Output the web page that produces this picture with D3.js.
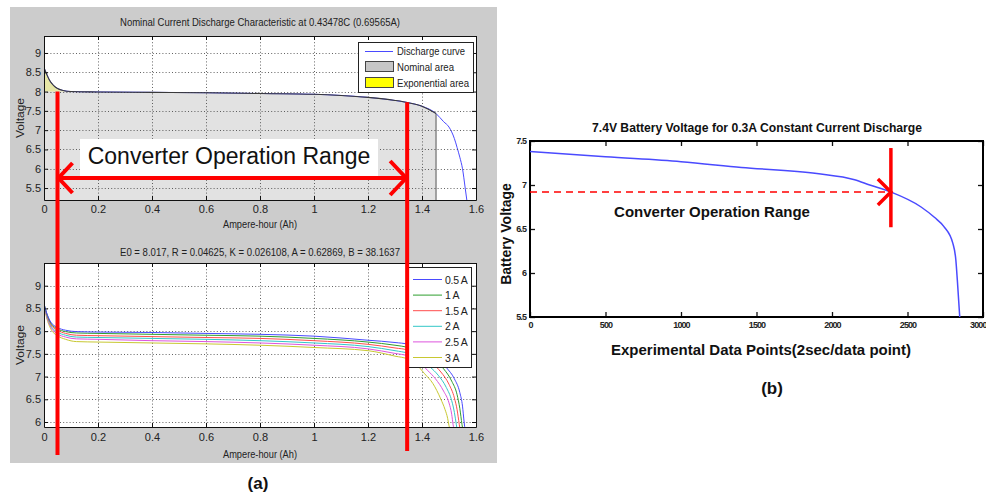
<!DOCTYPE html>
<html lang="en">
<head>
  <meta charset="UTF-8">
  <title>Battery Discharge Characteristics</title>
  <script src="https://d3js.org/d3.v7.min.js"></script>
  <style>
    body { margin: 0; background: #fff; }
    svg { display: block; font-family: "Liberation Sans", Arial, sans-serif; }
  </style>
</head>
<body>
<div id="chart"></div>
<script>
  // ---------- (a) top : nominal current discharge ----------
  const nomAh = [0, 0.01, 0.02, 0.035, 0.05, 0.07, 0.1, 0.2, 0.4, 0.6, 0.8, 1.0, 1.1, 1.2, 1.3, 1.35, 1.4, 1.452, 1.48, 1.5, 1.52, 1.53, 1.54, 1.55, 1.56, 1.566];
  const nomV = [8.62, 8.45, 8.3, 8.16, 8.08, 8.03, 8.0, 7.99, 7.98, 7.97, 7.95, 7.93, 7.9, 7.85, 7.77, 7.71, 7.62, 7.43, 7.22, 7.08, 6.78, 6.55, 6.3, 6.0, 5.5, 5.19];
  const nominalEnd = 1.452;
  const exponentialEnd = 0.1;
  const exponentialFloor = 8.0;
  const topLegend = ["Discharge curve", "Nominal area", "Exponential area"];

  // ---------- (a) bottom : discharge at several currents ----------
  const currents = ["0.5 A", "1 A", "1.5 A", "2 A", "2.5 A", "3 A"];
  const currentColors = ["#4a4aff", "#2e9e2e", "#ff4d4d", "#33c7c7", "#dd55dd", "#c8c832"];
  const ahHead = [0, 0.01, 0.025, 0.05, 0.08, 0.12, 0.2, 0.4, 0.6, 0.8, 1.0, 1.2, 1.3, 1.35];
  const vHead05 = [8.6, 8.4, 8.2, 8.08, 8.02, 7.99, 7.98, 7.97, 7.95, 7.93, 7.89, 7.8, 7.75, 7.71];
  const vHead1 = [8.6, 8.39, 8.18, 8.05, 7.99, 7.96, 7.95, 7.93, 7.91, 7.89, 7.84, 7.76, 7.69, 7.64];
  const vHead15 = [8.59, 8.37, 8.15, 8.02, 7.95, 7.91, 7.9, 7.88, 7.86, 7.84, 7.79, 7.71, 7.63, 7.58];
  const vHead2 = [8.58, 8.35, 8.12, 7.98, 7.91, 7.87, 7.86, 7.84, 7.82, 7.79, 7.74, 7.66, 7.57, 7.51];
  const vHead25 = [8.57, 8.32, 8.09, 7.94, 7.87, 7.83, 7.82, 7.79, 7.77, 7.74, 7.69, 7.61, 7.51, 7.45];
  const vHead3 = [8.56, 8.29, 8.05, 7.9, 7.82, 7.77, 7.76, 7.74, 7.72, 7.69, 7.64, 7.57, 7.45, 7.38];
  const ahTail05 = [1.4, 1.45, 1.49, 1.52, 1.54, 1.55, 1.556, 1.56];
  const vTail05 = [7.6, 7.45, 7.2, 6.95, 6.65, 6.35, 6.0, 5.8];
  const ahTail1 = [1.4, 1.45, 1.48, 1.51, 1.53, 1.54, 1.548, 1.552];
  const vTail1 = [7.53, 7.35, 7.17, 6.9, 6.6, 6.3, 5.95, 5.8];
  const ahTail15 = [1.39, 1.44, 1.47, 1.5, 1.52, 1.53, 1.538, 1.542];
  const vTail15 = [7.47, 7.28, 7.1, 6.83, 6.53, 6.27, 5.95, 5.8];
  const ahTail2 = [1.39, 1.43, 1.46, 1.49, 1.51, 1.52, 1.527, 1.531];
  const vTail2 = [7.4, 7.21, 7.03, 6.76, 6.47, 6.21, 5.95, 5.8];
  const ahTail25 = [1.39, 1.42, 1.45, 1.48, 1.5, 1.51, 1.515, 1.52];
  const vTail25 = [7.32, 7.14, 6.95, 6.68, 6.42, 6.17, 5.95, 5.8];
  const ahTail3 = [1.38, 1.41, 1.44, 1.47, 1.485, 1.495, 1.5, 1.505];
  const vTail3 = [7.26, 7.06, 6.85, 6.5, 6.28, 6.08, 5.92, 5.8];

  // ---------- (b) : 7.4V battery, 0.3A experiment ----------
  const expIdx = [0, 500, 1000, 1400, 1900, 2150, 2250, 2390, 2590, 2680, 2740, 2800, 2820, 2830, 2846];
  const expV = [7.38, 7.32, 7.265, 7.2, 7.13, 7.06, 7.0, 6.92, 6.75, 6.63, 6.53, 6.34, 6.15, 5.92, 5.5];
  const rangeEndIdx = 2390;
  const rangeV = 6.92;

  // range annotations on (a)
  const rangeStartAh = 0.05;
  const rangeEndAh = 1.345;

  const ahTicks = [0, 0.2, 0.4, 0.6, 0.8, 1, 1.2, 1.4, 1.6];
  const topVTicks = [5.5, 6, 6.5, 7, 7.5, 8, 8.5, 9];
  const botVTicks = [6, 6.5, 7, 7.5, 8, 8.5, 9];
  const idxTicks = [0, 500, 1000, 1500, 2000, 2500, 3000];
  const expVTicks = [5.5, 6, 6.5, 7, 7.5];

  const width = 986, height = 495;
  const svg = d3.select("#chart").append("svg")
    .attr("width", width).attr("height", height);

  // gray matlab figure panel
  svg.append("rect").attr("x", 10).attr("y", 7).attr("width", 487).attr("height", 456)
    .attr("fill", "#cccccc");

  const xTop = d3.scaleLinear([0, 1.6], [44, 476]);
  const yTop = d3.scaleLinear([5.19, 9.44], [200, 36]);
  const xBot = d3.scaleLinear([0, 1.6], [44, 476]);
  const yBot = d3.scaleLinear([5.89, 9.5], [427, 263]);

  const fmtNum = d => String(+d.toFixed(1));

  function clipFor(id, x, y) {
    svg.append("clipPath").attr("id", id).append("rect")
      .attr("x", x.range()[0]).attr("y", y.range()[1])
      .attr("width", x.range()[1] - x.range()[0])
      .attr("height", y.range()[0] - y.range()[1]);
  }

  function plotBg(x, y) {
    svg.append("rect").attr("x", x.range()[0]).attr("y", y.range()[1])
      .attr("width", x.range()[1] - x.range()[0]).attr("height", y.range()[0] - y.range()[1])
      .attr("fill", "#fff");
  }

  function grid(x, y, xt, yt) {
    const g = svg.append("g").attr("stroke", "#3a3a3a").attr("stroke-dasharray", "1,2.2")
      .attr("stroke-width", 0.8);
    g.selectAll(".gx").data(xt).join("line")
      .attr("x1", d => x(d) + 0.5).attr("x2", d => x(d) + 0.5)
      .attr("y1", y.range()[0]).attr("y2", y.range()[1]);
    g.selectAll(".gy").data(yt).join("line")
      .attr("y1", d => Math.round(y(d)) + 0.5).attr("y2", d => Math.round(y(d)) + 0.5)
      .attr("x1", x.range()[0]).attr("x2", x.range()[1]);
  }

  function matlabAxes(x, y, xt, yt, pad) {
    const [x0, x1] = x.range(), [yb, yt0] = y.range();
    const style = g => {
      g.selectAll("text").attr("fill", "#222").style("font-size", "11px").style("font-family", "Liberation Sans, Arial");
      g.selectAll("path, line").attr("stroke", "#111");
    };
    svg.append("g").attr("transform", `translate(0,${yb})`)
      .call(d3.axisBottom(x).tickValues(xt).tickSize(-4).tickSizeOuter(0).tickPadding(pad).tickFormat(fmtNum)).call(style);
    svg.append("g").attr("transform", `translate(${x0},0)`)
      .call(d3.axisLeft(y).tickValues(yt).tickSize(-4).tickSizeOuter(0).tickPadding(3).tickFormat(fmtNum)).call(style);
    svg.append("g").attr("transform", `translate(0,${yt0})`)
      .call(d3.axisTop(x).tickValues(xt).tickSize(-4).tickSizeOuter(0).tickFormat("")).call(style);
    svg.append("g").attr("transform", `translate(${x1},0)`)
      .call(d3.axisRight(y).tickValues(yt).tickSize(-4).tickSizeOuter(0).tickFormat("")).call(style);
    svg.selectAll(".domain").attr("stroke-width", 1);
  }

  function smallText(x, y, txt, opts = {}) {
    const t = svg.append("text").attr("x", x).attr("y", y).text(txt)
      .attr("fill", "#222").style("font-size", (opts.size || 11) + "px")
      .attr("text-anchor", opts.anchor || "middle");
    if (opts.len) t.attr("textLength", opts.len).attr("lengthAdjust", "spacingAndGlyphs");
    if (opts.rotate) t.attr("transform", `rotate(-90,${x},${y})`);
    return t;
  }

  // ===== (a) top plot =====
  plotBg(xTop, yTop);
  clipFor("clipTop", xTop, yTop);
  const nomPts = nomAh.map((a, i) => [a, nomV[i]]);
  const topG = svg.append("g").attr("clip-path", "url(#clipTop)");

  const nomArea = d3.area().x(d => xTop(d[0])).y0(yTop.range()[0]).y1(d => yTop(d[1]));
  const nominalPts = nomPts.filter(d => d[0] <= nominalEnd);
  topG.append("path").datum(nominalPts).attr("d", nomArea).attr("fill", "#e2e2e2");
  const expArea = d3.area().x(d => xTop(d[0])).y0(yTop(exponentialFloor)).y1(d => yTop(d[1]));
  topG.append("path").datum(nomPts.filter(d => d[0] <= exponentialEnd)).attr("d", expArea)
    .attr("fill", "#e6e6a6");

  grid(xTop, yTop, ahTicks, topVTicks);

  const lineTop = d3.line().x(d => xTop(d[0])).y(d => yTop(d[1])).curve(d3.curveMonotoneX);
  topG.append("path").datum(nomPts).attr("d", lineTop).attr("fill", "none")
    .attr("stroke", "#4a4aff").attr("stroke-width", 1);
  topG.append("path").datum(nominalPts).attr("d", lineTop).attr("fill", "none")
    .attr("stroke", "#3a3a3a").attr("stroke-width", 1.1);
  topG.append("line").attr("x1", xTop(nominalEnd)).attr("x2", xTop(nominalEnd))
    .attr("y1", yTop(nomV[nomAh.indexOf(nominalEnd)])).attr("y2", yTop.range()[0])
    .attr("stroke", "#555").attr("stroke-width", 1);

  matlabAxes(xTop, yTop, ahTicks, topVTicks, 5);

  smallText(260, 26, "Nominal Current Discharge Characteristic at 0.43478C (0.69565A)", { len: 280 });
  smallText(260, 228, "Ampere-hour (Ah)", { len: 74 });
  smallText(24, 118, "Voltage", { rotate: true, len: 40 });

  // legend top
  const lgT = svg.append("g");
  lgT.append("rect").attr("x", 358.5).attr("y", 42.5).attr("width", 115).attr("height", 50)
    .attr("fill", "#fff").attr("stroke", "#222");
  lgT.append("line").attr("x1", 365).attr("x2", 393).attr("y1", 51.5).attr("y2", 51.5)
    .attr("stroke", "#4a4aff");
  lgT.append("rect").attr("x", 365.5).attr("y", 61.5).attr("width", 28).attr("height", 10)
    .attr("fill", "#c6c6c6").attr("stroke", "#444");
  lgT.append("rect").attr("x", 365.5).attr("y", 77.5).attr("width", 28).attr("height", 10)
    .attr("fill", "#ffff00").attr("stroke", "#444");
  topLegend.forEach((t, i) => {
    smallText(397, [55, 71, 87][i], t, { anchor: "start", len: [68, 57, 72][i] });
  });

  // ===== (a) bottom plot =====
  plotBg(xBot, yBot);
  clipFor("clipBot", xBot, yBot);
  grid(xBot, yBot, ahTicks, botVTicks);
  const heads = [vHead05, vHead1, vHead15, vHead2, vHead25, vHead3];
  const tailsAh = [ahTail05, ahTail1, ahTail15, ahTail2, ahTail25, ahTail3];
  const tailsV = [vTail05, vTail1, vTail15, vTail2, vTail25, vTail3];
  const series = currents.map((name, i) => ({
    name, color: currentColors[i],
    pts: ahHead.map((a, j) => [a, heads[i][j]])
      .concat(tailsAh[i].map((a, j) => [a, tailsV[i][j]]))
  }));
  const lineBot = d3.line().x(d => xBot(d[0])).y(d => yBot(d[1])).curve(d3.curveMonotoneX);
  svg.append("g").attr("clip-path", "url(#clipBot)")
    .selectAll("path").data(series.slice().reverse()).join("path")
    .attr("d", d => lineBot(d.pts)).attr("fill", "none")
    .attr("stroke", d => d.color).attr("stroke-width", 1);

  matlabAxes(xBot, yBot, ahTicks, botVTicks, 6);

  smallText(260, 256, "E0 = 8.017, R = 0.04625, K = 0.026108, A = 0.62869, B = 38.1637", { len: 280 });
  smallText(260, 458, "Ampere-hour (Ah)", { len: 74 });
  smallText(24, 345, "Voltage", { rotate: true, len: 40 });

  // legend bottom
  const lgB = svg.append("g");
  lgB.append("rect").attr("x", 407.5).attr("y", 267.5).attr("width", 64).attr("height", 100)
    .attr("fill", "#fff").attr("stroke", "#222");
  series.forEach((s, i) => {
    const yy = 279.5 + i * 15.6;
    lgB.append("line").attr("x1", 413).attr("x2", 442).attr("y1", yy).attr("y2", yy)
      .attr("stroke", s.color);
    smallText(445, yy + 4, s.name, { anchor: "start", size: 10.5 })
      .style("letter-spacing", "-0.3px");
  });

  // ===== red annotations on (a) =====
  const red = "#ff0000";
  const ann = svg.append("g").attr("stroke", red).attr("stroke-width", 4).attr("fill", "none");
  const xs = xTop(rangeStartAh), xe = xTop(rangeEndAh), ya = 178;
  ann.append("line").attr("x1", xs).attr("x2", xs).attr("y1", yTop(8.0)).attr("y2", 455);
  ann.append("line").attr("x1", xe).attr("x2", xe).attr("y1", yTop(7.72)).attr("y2", 451);
  svg.append("rect").attr("x", 80).attr("y", 139).attr("width", 298).attr("height", 37)
    .attr("fill", "#fff");
  svg.append("text").attr("x", 229).attr("y", 164).attr("text-anchor", "middle")
    .style("font-size", "23px").attr("fill", "#111").text("Converter Operation Range");
  ann.append("line").attr("x1", xs).attr("x2", xe).attr("y1", ya).attr("y2", ya);
  ann.append("path").attr("d", `M${xs + 15},${ya - 15} L${xs + 1},${ya} L${xs + 15},${ya + 15}`);
  ann.append("path").attr("d", `M${xe - 17},${ya - 17} L${xe - 1},${ya} L${xe - 17},${ya + 17}`);

  svg.append("text").attr("x", 258).attr("y", 489).attr("text-anchor", "middle")
    .style("font-size", "17px").style("font-weight", "bold").attr("fill", "#111").text("(a)");

  // ===== (b) =====
  const xR = d3.scaleLinear([0, 3000], [530, 983]);
  const yR = d3.scaleLinear([5.5, 7.5], [317, 141]);
  const bStyle = g => {
    g.select(".domain").remove();
    g.selectAll("line").attr("stroke", "#111").attr("stroke-width", 1.3);
    g.selectAll("text").attr("fill", "#222").style("font-size", "9px").style("font-weight", "bold")
      .style("letter-spacing", "-0.9px");
  };
  const xAxisB = svg.append("g").attr("transform", `translate(0,${yR.range()[0]})`)
    .call(d3.axisBottom(xR).tickValues(idxTicks).tickSize(-5).tickPadding(5).tickFormat(d3.format("d"))).call(bStyle);
  // last label sits at the right edge of the picture
  xAxisB.selectAll(".tick text").filter(d => d === 3000).attr("text-anchor", "end").attr("dx", 3);
  svg.append("g").attr("transform", `translate(${xR.range()[0]},0)`)
    .call(d3.axisLeft(yR).tickValues(expVTicks).tickSize(-5).tickPadding(4).tickFormat(fmtNum)).call(bStyle);
  svg.append("g").attr("transform", `translate(0,${yR.range()[1]})`)
    .call(d3.axisTop(xR).tickValues(idxTicks).tickSize(-5).tickFormat("")).call(bStyle);
  svg.append("g").attr("transform", `translate(${xR.range()[1]},0)`)
    .call(d3.axisRight(yR).tickValues(expVTicks).tickSize(-5).tickFormat("")).call(bStyle);
  svg.append("rect").attr("x", xR.range()[0]).attr("y", yR.range()[1])
    .attr("width", xR.range()[1] - xR.range()[0]).attr("height", yR.range()[0] - yR.range()[1])
    .attr("fill", "none").attr("stroke", "#000").attr("stroke-width", 2);

  svg.append("line").attr("x1", xR(0)).attr("x2", xR(rangeEndIdx))
    .attr("y1", yR(rangeV)).attr("y2", yR(rangeV))
    .attr("stroke", red).attr("stroke-width", 1.5).attr("stroke-dasharray", "7,5");

  svg.append("path").datum(expIdx.map((d, i) => [d, expV[i]]))
    .attr("d", d3.line().x(d => xR(d[0])).y(d => yR(d[1])).curve(d3.curveMonotoneX))
    .attr("fill", "none").attr("stroke", "#4a4aff").attr("stroke-width", 1.5);

  const rx = xR(rangeEndIdx), ry = yR(rangeV);
  const annB = svg.append("g").attr("stroke", red).attr("stroke-width", 3.5).attr("fill", "none");
  annB.append("line").attr("x1", rx).attr("x2", rx).attr("y1", yR(7.42)).attr("y2", yR(6.52));
  annB.append("path").attr("d", `M${rx - 13},${ry - 13} L${rx},${ry} L${rx - 13},${ry + 13}`);

  const boldText = (x, y, txt, size, opts = {}) => {
    const t = svg.append("text").attr("x", x).attr("y", y).text(txt)
      .attr("text-anchor", "middle").attr("fill", "#111")
      .style("font-size", size + "px").style("font-weight", "bold");
    if (opts.len) t.attr("textLength", opts.len).attr("lengthAdjust", "spacingAndGlyphs");
    if (opts.rotate) t.attr("transform", `rotate(-90,${x},${y})`);
    return t;
  };
  boldText(757, 132, "7.4V Battery Voltage for 0.3A Constant Current Discharge", 13, { len: 330 });
  boldText(712, 217, "Converter Operation Range", 15);
  boldText(511, 234, "Battery Voltage", 14, { rotate: true });
  boldText(761, 355, "Experimental Data Points(2sec/data point)", 15);
  boldText(772, 394, "(b)", 17);
</script>
</body>
</html>
